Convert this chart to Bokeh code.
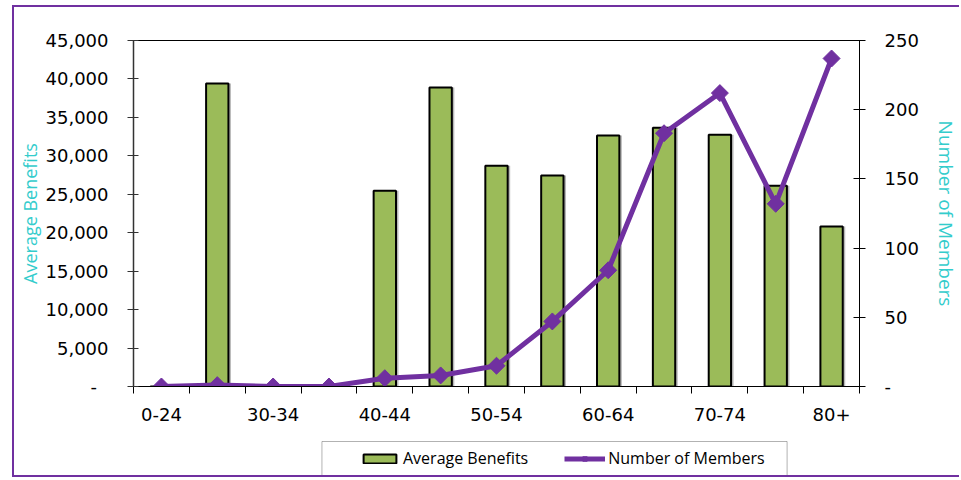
import math
from bokeh.plotting import figure
from bokeh.layouts import column
from bokeh.models import (Range1d, LinearAxis, FixedTicker, NumeralTickFormatter,
                          Legend, LegendItem, ColumnDataSource, BoxAnnotation)
from bokeh.transform import dodge
from bokeh.embed import file_html
from bokeh.resources import INLINE

age_groups = ["0-24", "25-29", "30-34", "35-39", "40-44", "45-49", "50-54",
              "55-59", "60-64", "65-69", "70-74", "75-79", "80+"]
avg_benefits = [0, 39400, 0, 0, 25450, 38900, 28700, 27450, 32650, 33650, 32750, 26100, 20800]
num_members = [0, 1, 0, 0, 6, 8, 15, 47, 84, 183, 212, 132, 237]
left_ticks = [0, 5000, 10000, 15000, 20000, 25000, 30000, 35000, 40000, 45000]
right_ticks = [0, 50, 100, 150, 200, 250]
series_names = ["Average Benefits", "Number of Members"]

PURPLE = "#7030A0"
GREEN = "#9BBB59"
TEAL = "#33CCCC"
TICK_FONT = "DejaVu Sans"
TEXT_FONT = "Open Sans"
BORDER = "2px solid " + PURPLE

xs = list(range(len(age_groups)))
src = ColumnDataSource(dict(x=xs, group=age_groups, benefits=avg_benefits, members=num_members))

# ---------------- main chart ----------------
p = figure(width=947, height=425, output_backend="svg", toolbar_location=None,
           x_range=Range1d(-0.5, len(age_groups) - 0.5), y_range=Range1d(0, 45000),
           min_border_left=119, min_border_right=96, min_border_top=33, min_border_bottom=46,
           x_axis_type=None, y_axis_type=None,
           margin=(5, 0, 0, 12),
           styles={"border-left": BORDER, "border-top": BORDER})
p.extra_y_ranges = {"members": Range1d(0, 250)}
p.xgrid.visible = False
p.ygrid.visible = False
p.outline_line_color = "black"
p.outline_line_width = 1
p.background_fill_color = "white"
p.border_fill_color = "white"

xaxis = LinearAxis(
    ticker=FixedTicker(ticks=xs[::2], minor_ticks=[i - 0.5 for i in range(len(age_groups) + 1)]),
    major_label_overrides={i: age_groups[i] for i in xs[::2]},
    major_tick_in=0, major_tick_out=0, minor_tick_in=0, minor_tick_out=7,
    minor_tick_line_color="black", axis_line_color="black",
    major_label_standoff=14, major_label_text_font=TICK_FONT,
    major_label_text_font_size="18px", major_label_text_color="black")
p.add_layout(xaxis, "below")

yaxis = LinearAxis(
    ticker=FixedTicker(ticks=left_ticks, minor_ticks=[]),
    formatter=NumeralTickFormatter(format="0,0"),
    major_label_overrides={0: "-\u00a0\u00a0"},
    major_tick_in=5, major_tick_out=6, axis_line_color="#333333", axis_line_width=1.5,
    major_tick_line_color="#333333",
    major_label_standoff=19, major_label_text_font=TICK_FONT,
    major_label_text_font_size="18px", major_label_text_color="black",
    axis_label=series_names[0], axis_label_text_color=TEAL,
    axis_label_text_font=TEXT_FONT, axis_label_text_font_size="18px",
    axis_label_text_font_style="normal", axis_label_standoff=1)
p.add_layout(yaxis, "left")

raxis = LinearAxis(
    y_range_name="members",
    ticker=FixedTicker(ticks=right_ticks, minor_ticks=[]),
    major_label_overrides={0: "-"},
    major_tick_in=6, major_tick_out=6, axis_line_color="black",
    major_label_standoff=19, major_label_text_font=TICK_FONT,
    major_label_text_font_size="18px", major_label_text_color="black")
p.add_layout(raxis, "right")

# title-only axis on the right side
rtitle = LinearAxis(
    y_range_name="members",
    ticker=FixedTicker(ticks=[], minor_ticks=[]),
    major_tick_in=0, major_tick_out=0, minor_tick_in=0, minor_tick_out=0,
    major_label_standoff=0, axis_line_color=None,
    axis_label=series_names[1], axis_label_text_color=TEAL,
    axis_label_text_font=TEXT_FONT, axis_label_text_font_size="19px",
    axis_label_text_font_style="normal", axis_label_standoff=11)
p.add_layout(rtitle, "right")

# bar shadow, bars, line with diamond markers
p.vbar(x=dodge("x", 0.045, range=p.x_range), top="benefits", width=0.4, source=src,
       fill_color="#9a9a9a", fill_alpha=0.7, line_color=None)
p.vbar(x="x", top="benefits", width=0.4, source=src,
       fill_color=GREEN, line_color="black", line_width=2)
p.line(x="x", y="members", source=src, y_range_name="members",
       line_color=PURPLE, line_width=5)
p.scatter(x="x", y="members", source=src, y_range_name="members",
          marker="square", angle=math.pi / 4, size=12,
          fill_color=PURPLE, line_color=PURPLE)

# ---------------- legend strip ----------------
# x units = page pixels over the (aligned) plot frame
lg = figure(width=947, height=47, output_backend="svg", toolbar_location=None,
            x_range=Range1d(133, 865), y_range=Range1d(0, 47),
            min_border=0, min_border_left=0, min_border_right=0,
            min_border_top=0, min_border_bottom=0,
            x_axis_type=None, y_axis_type=None,
            margin=(0, 0, 0, 12),
            styles={"border-left": BORDER, "border-bottom": BORDER})
lg.xgrid.visible = False
lg.ygrid.visible = False
lg.outline_line_color = None
lg.background_fill_color = "white"
lg.border_fill_color = "white"

# sample renderers for the legend keys (placed off-canvas)
lsrc = ColumnDataSource(dict(x=[-1000, -990], y=[-1000, -1000], top=[-990, -990]))
lbar = lg.vbar(x="x", top="top", bottom="y", width=1, source=lsrc,
               fill_color=GREEN, line_color="black", line_width=2)
lline = lg.line(x="x", y="y", source=lsrc, line_color=PURPLE, line_width=5)
lpts = lg.scatter(x="x", y="y", source=lsrc, marker="square", angle=math.pi / 4, size=12,
                  fill_color=PURPLE, line_color=PURPLE)

lg.add_layout(BoxAnnotation(left=323, right=792, bottom=2, top=36,
                            fill_alpha=0, line_color="black", line_width=1))

legend = Legend(items=[LegendItem(label=series_names[0], renderers=[lbar]),
                       LegendItem(label=series_names[1], renderers=[lline, lpts])],
                orientation="horizontal", location=(221, 3),
                padding=5, spacing=36, margin=0, glyph_width=41, glyph_height=11,
                label_standoff=3,
                label_text_font=TEXT_FONT, label_text_font_size="16px",
                label_text_color="black",
                border_line_alpha=0, background_fill_alpha=0)
lg.add_layout(legend, "center")

layout = column(p, lg, spacing=0)
open("out.html", "w").write(file_html(layout, INLINE))
